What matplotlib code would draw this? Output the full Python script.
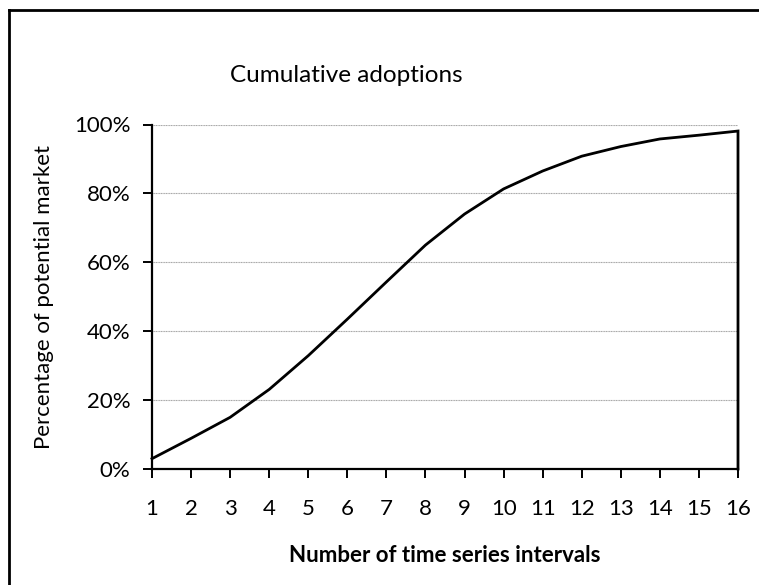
import numpy as np
import matplotlib
matplotlib.use('Agg')
import matplotlib.pyplot as plt
from matplotlib.lines import Line2D
from matplotlib.ticker import PercentFormatter

# data (percent of potential market)
intervals = [1, 2, 3, 4, 5, 6, 7, 8, 9, 10, 11, 12, 13, 14, 15, 16, 16]
cumulative = [3.0, 8.9, 15.0, 23.1, 32.9, 43.5, 54.3, 65.0, 74.0, 81.3,
              86.5, 90.8, 93.6, 95.8, 96.9, 98.1, 0.0]
x_ticks = list(range(1, 17))
y_ticks = [0, 20, 40, 60, 80, 100]

plt.rcParams['font.family'] = ['Lato', 'DejaVu Sans']
fs = 16

fig = plt.figure(figsize=(7.59, 5.85), dpi=100)
ax_w = (738 - 152) / 759
ax_h = (469 - 124.5) / 585
ax = fig.add_axes([152 / 759, 1 - 469 / 585, ax_w, ax_h])

ax.plot(intervals, cumulative, color='black', lw=2, solid_joinstyle='miter', clip_on=False)

ax.set_xlim(1, 16)
ax.set_ylim(0, 100)
ax.set_xticks(x_ticks)
ax.set_yticks(y_ticks)
ax.yaxis.set_major_formatter(PercentFormatter(decimals=0))
ax.grid(axis='y', color='#a6a6a6', lw=0.8, ls=(0, (1, 0.5)))
ax.set_axisbelow(True)
for s in ['top', 'right']:
    ax.spines[s].set_visible(False)
for s in ['left', 'bottom']:
    ax.spines[s].set_linewidth(1.6)
ax.tick_params(axis='both', direction='out', length=6.5, width=1.4, labelsize=fs)
ax.tick_params(axis='x', pad=15)
ax.tick_params(axis='y', pad=9)

ax.set_xlabel('Number of time series intervals', fontsize=fs, fontweight='bold', va='center')
ax.xaxis.set_label_coords(0.5, (469 - 556) / (469 - 124.5))
ax.set_ylabel('Percentage of potential market', fontsize=fs, va='center')
ax.yaxis.set_label_coords((44 - 152) / (738 - 152), 0.5)

fig.text(230 / 759, 1 - 75 / 585, 'Cumulative adoptions', fontsize=17.5, ha='left', va='center')

# chart border (cut off at the right and bottom)
fig.add_artist(Line2D([9 / 759, 9 / 759], [0, 1 - 10 / 585], color='black', lw=2))
fig.add_artist(Line2D([9 / 759, 1], [1 - 10 / 585, 1 - 10 / 585], color='black', lw=2))

fig.savefig('out.png', dpi=100)
